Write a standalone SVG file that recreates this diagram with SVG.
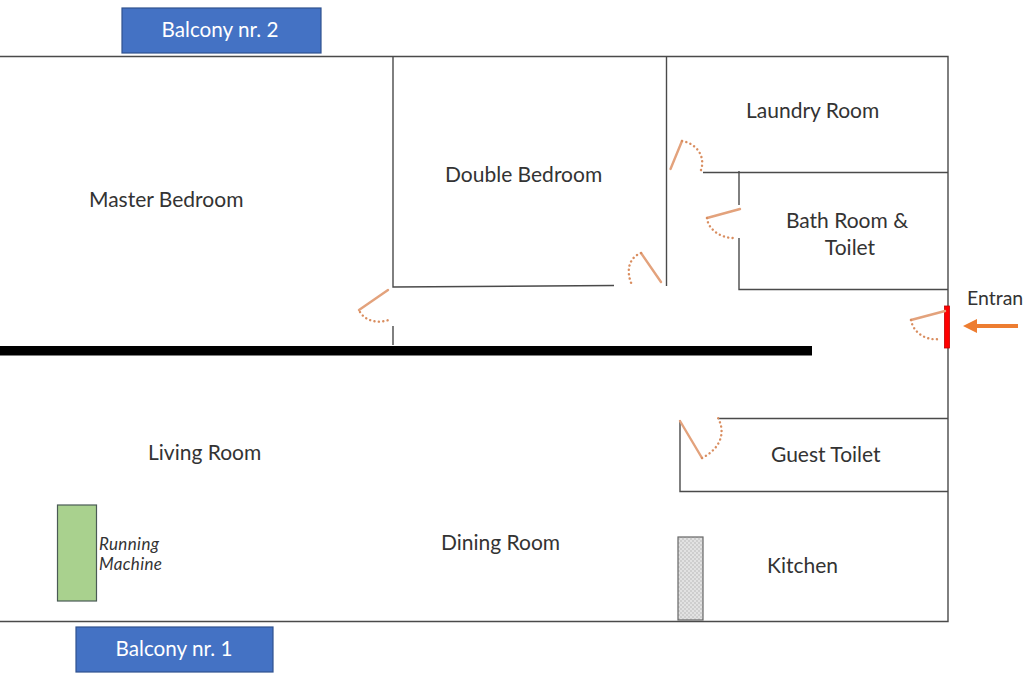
<svg xmlns="http://www.w3.org/2000/svg" width="1024" height="683" viewBox="0 0 1024 683">
<style>
.wall{fill:none;stroke:#4a4a4a;stroke-width:1.4}
.door{fill:none;stroke:#e3a27c;stroke-width:2.4;stroke-linecap:round}
.swing{fill:none;stroke:#d98d5f;stroke-width:2.4;stroke-linecap:round;stroke-dasharray:.1 4.3}
.t{font-family:Lato,"Open Sans",sans-serif;font-size:21px;fill:#333}
.e{font-family:Lato,"Open Sans",sans-serif;font-size:19.500px;fill:#333}
.b{font-family:Lato,"Open Sans",sans-serif;font-size:20.700px;fill:#fff;text-anchor:middle}
.bal{fill:#4472c4;stroke:#2f528f;stroke-width:1.2}
.i{font-family:Lato,"Open Sans",sans-serif;font-size:17px;font-style:italic;fill:#333}
</style>
<defs>
<pattern id="dots" width="4" height="4" patternUnits="userSpaceOnUse"><rect width="4" height="4" fill="#e2e2e2"/><circle cx="1" cy="1" r=".8" fill="#b5b5b5"/><circle cx="3" cy="3" r=".8" fill="#b5b5b5"/></pattern>
</defs>
<rect width="1024" height="683" fill="#fff"/>
<g id="connectors">
<path class="wall" d="M0 56.500H948V621.500H0"/>
<path class="wall" d="M393 56V287L614 285.500M393 326V345"/>
<path class="wall" d="M666.500 56V286"/>
<path class="wall" d="M703 172.500H948M739 171V205M739 238V289.500H948"/>
<path class="wall" d="M718 418.500H948M680 420V491.500H948"/>
</g>
<rect id="main-wall" x="0" y="346" width="812" height="9.500" fill="#000"/>
<g id="balcony-2"><rect class="bal" x="122" y="8" width="199" height="45"/><text class="b" x="220" y="36.500">Balcony nr. 2</text></g>
<g id="balcony-1"><rect class="bal" x="76" y="627" width="197" height="45"/><text class="b" x="174" y="655.500">Balcony nr. 1</text></g>
<g id="master-bedroom"><text class="t" x="89" y="207">Master Bedroom</text></g>
<g id="double-bedroom"><text class="t" x="445" y="182">Double Bedroom</text></g>
<g id="laundry-room"><text class="t" x="746" y="118">Laundry Room</text></g>
<g id="bath-room"><text class="t" x="847" y="228" text-anchor="middle">Bath Room &amp;</text><text class="t" x="850" y="254.500" text-anchor="middle">Toilet</text></g>
<g id="entrance"><text class="e" x="967" y="305">Entran</text>
<rect x="944.500" y="306" width="5" height="42" fill="#f00" stroke="#c00000" stroke-width=".8"/>
<path d="M1018 326H974" stroke="#ed7d31" stroke-width="4.200" fill="none"/><path d="M963 326L977 319V333Z" fill="#ed7d31"/></g>
<g id="living-room"><text class="t" x="148" y="460">Living Room</text></g>
<g id="dining-room"><text class="t" x="441" y="549.500">Dining Room</text></g>
<g id="guest-toilet"><text class="t" x="771" y="462">Guest Toilet</text></g>
<g id="kitchen"><text class="t" x="767" y="573">Kitchen</text><rect x="678" y="537" width="25" height="83" fill="url(#dots)" stroke="#666" stroke-width="1.200"/></g>
<g id="running-machine"><rect x="57.500" y="505" width="39" height="96" fill="#a9d18e" stroke="#4a5a55" stroke-width="1.200"/>
<text class="i" x="99" y="550" textLength="60">Running</text>
<text class="i" x="99" y="570" textLength="63">Machine</text></g>
<g id="doors">
<path class="door" d="M670.500 169L682 141"/><path class="swing" d="M682 141C695 143 706 155 701 170"/>
<path class="door" d="M707 218L740 209"/><path class="swing" d="M707 218C708 230 722 239 736 238"/>
<path class="door" d="M641 253L661 282"/><path class="swing" d="M641 253C628 258 626 272 632 285"/>
<path class="door" d="M359 310L388 290"/><path class="swing" d="M360 312C366 322 380 324 391 319"/>
<path class="door" d="M911 320L945 311"/><path class="swing" d="M911 320C913 332 925 341 940 339"/>
<path class="door" d="M680 421L702 458"/><path class="swing" d="M702 458C718 450 727 435 718 418"/>
</g>
</svg>
